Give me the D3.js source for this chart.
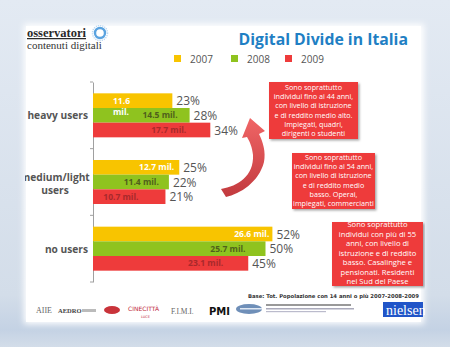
<!DOCTYPE html>
<html>
<head>
<meta charset="utf-8">
<script src="https://cdn.jsdelivr.net/npm/d3@7"></script>
<style>
  html, body { margin: 0; padding: 0; background: #d6e0ec; }
  svg { display: block; }
</style>
</head>
<body>
<svg id="chart" width="450" height="347"></svg>
<script>
// ---- data ----
const categories = ["heavy users", "medium/light users", "no users"];
const years = ["2007", "2008", "2009"];
const colors = ["#f8c400", "#8fc31f", "#ee3b3b"];
const share2007 = [23, 25, 52];
const share2008 = [28, 22, 50];
const share2009 = [34, 21, 45];
const millions2007 = ["11.6", "12.7", "26.6"];
const millions2008 = ["14.5", "11.4", "25.7"];
const millions2009 = ["17.7", "10.7", "23.1"];
const notes = [
  ["Sono soprattutto", "individui fino ai 44 anni,", "con livello di istruzione", "e di reddito  medio alto.", "Impiegati, quadri,", "dirigenti o studenti"],
  ["Sono soprattutto", "individui fino ai 54 anni,", "con livello di istruzione", "e di reddito  medio", "basso. Operai,", "impiegati, commercianti"],
  ["Sono soprattutto", "individui con più di 55", "anni, con livello di", "istruzione e di reddito", "basso. Casalinghe e", "pensionati. Residenti", "nel Sud del Paese"]
];
const baseNote = "Base: Tot. Popolazione con 14 anni o più 2007-2008-2009";

const shares = [share2007, share2008, share2009];
const millions = [millions2007, millions2008, millions2009];

const svg = d3.select("#chart");
const defs = svg.append("defs");

// slide backdrop
const bg = defs.append("linearGradient").attr("id", "bg").attr("x1", 0).attr("y1", 0).attr("x2", 0).attr("y2", 1);
bg.append("stop").attr("offset", "0").attr("stop-color", "#e3eaf3");
bg.append("stop").attr("offset", "0.85").attr("stop-color", "#d3dde9");
bg.append("stop").attr("offset", "0.95").attr("stop-color", "#c4d2e4");
bg.append("stop").attr("offset", "1").attr("stop-color", "#d3dde9");
svg.append("rect").attr("width", 450).attr("height", 347).attr("fill", "url(#bg)");

const soft = defs.append("filter").attr("id", "soft").attr("x", "-10%").attr("y", "-10%").attr("width", "120%").attr("height", "120%");
soft.append("feGaussianBlur").attr("stdDeviation", 3);
svg.append("rect").attr("x", 24).attr("y", 24).attr("width", 400).attr("height", 300)
  .attr("fill", "#ffffff").attr("filter", "url(#soft)");
svg.append("rect").attr("x", 26).attr("y", 26).attr("width", 395).attr("height", 296).attr("fill", "#ffffff");

defs.append("clipPath").attr("id", "card").append("rect")
  .attr("x", 25).attr("y", 25).attr("width", 400).attr("height", 298);
const card = svg.append("g").attr("clip-path", "url(#card)");

// ---- header ----
card.append("text").attr("x", 27).attr("y", 37)
  .attr("font-family", "Liberation Serif, DejaVu Serif, serif").attr("font-size", 12.5).attr("font-weight", 700)
  .attr("fill", "#2a2a2a").attr("text-decoration", "underline").text("osservatori");
card.append("circle").attr("cx", 100).attr("cy", 33).attr("r", 5)
  .attr("fill", "none").attr("stroke", "#5aa3e0").attr("stroke-width", 2.4);
card.append("circle").attr("cx", 100).attr("cy", 33).attr("r", 7.5)
  .attr("fill", "none").attr("stroke", "#bcd8f2").attr("stroke-width", 1.5).attr("stroke-dasharray", "1.2 1");
card.append("text").attr("x", 27).attr("y", 49)
  .attr("font-family", "Liberation Serif, DejaVu Serif, serif").attr("font-size", 11)
  .attr("fill", "#333").text("contenuti digitali");

card.append("text").attr("x", 408).attr("y", 45).attr("text-anchor", "end")
  .attr("font-family", "Open Sans, Noto Sans, sans-serif").attr("font-weight", 700)
  .attr("font-size", 15.8).attr("fill", "#1f7fc4").text("Digital Divide in Italia");

// legend
const legend = card.append("g").attr("font-family", "Open Sans, Noto Sans, sans-serif")
  .attr("font-size", 10).attr("fill", "#555");
const legendX = [174, 231, 285];
years.forEach((yr, i) => {
  legend.append("rect").attr("x", legendX[i]).attr("y", 55).attr("width", 7).attr("height", 7).attr("fill", colors[i]);
  legend.append("text").attr("x", legendX[i] + 16).attr("y", 63).attr("fill", "#555").text(yr);
});

// ---- bars ----
const x = d3.scaleLinear().domain([0, 60]).range([93, 300]);
const y = d3.scaleBand().domain(categories).range([82, 282]);
const inner = d3.scaleBand().domain(years).range([0, 44]);

const axis = d3.axisLeft(y).tickSize(0).tickFormat("");
const axisG = card.append("g").attr("transform", `translate(${x(0)},0)`).call(axis);
axisG.select(".domain").attr("stroke", "#888").attr("stroke-width", 0.8);
// boundary ticks between categories
const edges = [82, y(categories[1]), y(categories[2]), 282];
card.selectAll("line.edge").data(edges).join("line").attr("class", "edge")
  .attr("x1", x(0) - 3).attr("x2", x(0)).attr("y1", d => d).attr("y2", d => d)
  .attr("stroke", "#888").attr("stroke-width", 0.8);

const rows = [];
categories.forEach((c, ci) => {
  years.forEach((yr, yi) => {
    rows.push({ cat: c, ci, year: yr, yi, share: shares[yi][ci], mil: millions[yi][ci] });
  });
});
const groupTop = c => y(c) + (y.bandwidth() - 44) / 2;

card.selectAll("rect.bar").data(rows).join("rect").attr("class", "bar")
  .attr("x", x(0)).attr("y", d => groupTop(d.cat) + inner(d.year))
  .attr("width", d => x(d.share) - x(0)).attr("height", inner.bandwidth())
  .attr("fill", d => colors[d.yi]);

// percent labels to the right of each bar
card.selectAll("text.pct").data(rows).join("text").attr("class", "pct")
  .attr("x", d => x(d.share) + 4)
  .attr("y", d => groupTop(d.cat) + inner(d.year) + inner.bandwidth() / 2 + 4.5)
  .attr("font-family", "Open Sans, Noto Sans, sans-serif").attr("font-size", 12)
  .attr("fill", "#555").text(d => d.share + "%");

// value labels inside the bars (shift back from bar end, by category then year)
const labelShift = [[0, -12, -24], [-5, -10, -27], [-3, -20, -25]];
const inColor = ["#ffffff", "#4f5f1c", "#a8292b"];
card.selectAll("text.mil").data(rows.filter(d => !(d.ci === 0 && d.yi === 0))).join("text").attr("class", "mil")
  .attr("x", d => x(d.share) + labelShift[d.ci][d.yi])
  .attr("y", d => groupTop(d.cat) + inner(d.year) + inner.bandwidth() / 2 + 3)
  .attr("text-anchor", "end")
  .attr("font-family", "Open Sans, Noto Sans, sans-serif").attr("font-weight", 700)
  .attr("font-size", 8.5).attr("fill", d => inColor[d.yi]).text(d => d.mil + " mil.");
// the narrow heavy-users 2007 label wraps onto two lines
const first = rows[0];
card.append("text").attr("x", 113).attr("y", groupTop(first.cat) + 11)
  .attr("font-family", "Open Sans, Noto Sans, sans-serif").attr("font-weight", 700)
  .attr("font-size", 8.5).attr("fill", "#ffffff")
  .selectAll("tspan").data([first.mil, "mil."]).join("tspan")
  .attr("x", 113).attr("dy", (d, i) => i ? 11 : 0).text(d => d);

// category labels
const catLines = [["heavy users"], ["medium/light", "users"], ["no users"]];
categories.forEach((c, ci) => {
  const lines = catLines[ci];
  const cy = y(c) + y.bandwidth() / 2;
  const t = card.append("text")
    .attr("font-family", "Open Sans, Noto Sans, sans-serif").attr("font-weight", 700)
    .attr("font-size", 10.2).attr("fill", "#555");
  if (lines.length === 1) {
    t.attr("x", 88).attr("y", cy + 4).attr("text-anchor", "end").text(lines[0]);
  } else {
    t.attr("text-anchor", "middle");
    lines.forEach((l, li) => t.append("tspan").attr("x", 55).attr("y", cy - 1 + li * 13).text(l));
  }
});

// ---- curved arrow ----
const ag = defs.append("linearGradient").attr("id", "arrowFill").attr("x1", 0).attr("y1", 0).attr("x2", 0).attr("y2", 1);
ag.append("stop").attr("offset", "0").attr("stop-color", "#f06566");
ag.append("stop").attr("offset", "1").attr("stop-color", "#c23a3e");
card.append("path")
  .attr("d", "M221,189 C238,186 254,176 253,155 C252,147 250,142 247,137 L242,138 L250,118 L265,131 L259,134 C263,142 266,152 264,162 C259,182 240,194 226,197 Z")
  .attr("fill", "url(#arrowFill)");

// ---- note boxes ----
const boxes = [
  { x: 269, y: 82, w: 89, h: 57, fs: 7.2, top: 90, lh: 9.2 },
  { x: 292, y: 153, w: 83, h: 56, fs: 7.2, top: 160, lh: 9.2 },
  { x: 332, y: 222, w: 91, h: 64, fs: 7.6, top: 227, lh: 9.5 }
];
const shadow = defs.append("filter").attr("id", "shadow").attr("x", "-10%").attr("y", "-10%").attr("width", "130%").attr("height", "130%");
shadow.append("feDropShadow").attr("dx", 1.5).attr("dy", 1.5).attr("stdDeviation", 1).attr("flood-color", "#000").attr("flood-opacity", 0.35);
boxes.forEach((b, i) => {
  card.append("rect").attr("x", b.x).attr("y", b.y).attr("width", b.w).attr("height", b.h)
    .attr("fill", "#ee3b3b").attr("filter", "url(#shadow)");
  const t = card.append("text").attr("text-anchor", "middle")
    .attr("font-family", "Open Sans, Noto Sans, sans-serif").attr("font-size", b.fs).attr("fill", "#fff");
  notes[i].forEach((l, li) => t.append("tspan").attr("x", b.x + b.w / 2).attr("y", b.top + li * b.lh).text(l));
});

// ---- footer ----
card.append("text").attr("x", 419).attr("y", 298).attr("text-anchor", "end")
  .attr("font-family", "DejaVu Sans, sans-serif").attr("font-weight", 700)
  .attr("font-size", 5.3).attr("fill", "#333").text(baseNote);

const logos = card.append("g").attr("font-family", "Liberation Serif, serif");
logos.append("text").attr("x", 36).attr("y", 313).attr("font-size", 8).attr("fill", "#666").text("AIIE");
logos.append("text").attr("x", 58).attr("y", 313).attr("font-size", 6.5).attr("font-weight", 700).attr("fill", "#444").text("AEDRO");
logos.append("rect").attr("x", 82).attr("y", 309).attr("width", 14).attr("height", 3).attr("fill", "#bbb");
logos.append("ellipse").attr("cx", 112).attr("cy", 310).attr("rx", 8).attr("ry", 4).attr("fill", "#c9333a");
logos.append("text").attr("x", 128).attr("y", 311).attr("font-family", "DejaVu Sans, sans-serif").attr("font-size", 6).attr("fill", "#c0283a").text("CINECITTÀ");
logos.append("text").attr("x", 141).attr("y", 318).attr("font-family", "DejaVu Sans, sans-serif").attr("font-size", 3.5).attr("fill", "#c0283a").text("LUCE");
logos.append("text").attr("x", 171).attr("y", 314).attr("font-size", 7.5).attr("fill", "#666").text("F.I.M.I.");
logos.append("text").attr("x", 209).attr("y", 315).attr("font-family", "DejaVu Sans, sans-serif").attr("font-weight", 700).attr("font-size", 10).attr("fill", "#111").text("PMI");
logos.append("ellipse").attr("cx", 249).attr("cy", 309).attr("rx", 13).attr("ry", 5).attr("fill", "#6f8fb8");
logos.append("rect").attr("x", 240).attr("y", 308).attr("width", 22).attr("height", 1.5).attr("fill", "#dfe8f3");
logos.append("rect").attr("x", 266).attr("y", 304).attr("width", 85).attr("height", 2).attr("fill", "#999");
logos.append("rect").attr("x", 266).attr("y", 308).attr("width", 88).attr("height", 1.5).attr("fill", "#aab");
logos.append("rect").attr("x", 266).attr("y", 311).attr("width", 60).attr("height", 1.2).attr("fill", "#bbc");
logos.append("rect").attr("x", 383).attr("y", 302).attr("width", 40).attr("height", 15).attr("fill", "#2155c8");
logos.append("text").attr("x", 386).attr("y", 315).attr("font-size", 14).attr("fill", "#ffffff").text("nielsen");
</script>
</body>
</html>
